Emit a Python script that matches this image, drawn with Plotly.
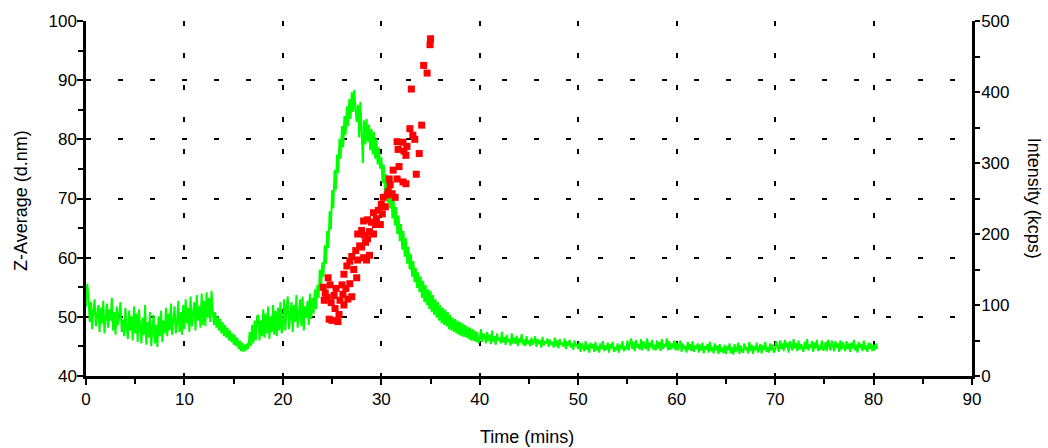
import plotly.graph_objects as go

# ---------------- data ----------------
# Intensity (kcps), sampled every 0.125 min starting at t = 0
t_start = 0.0
t_step = 0.125
intensity = [
    # 0 - 5 min
    98, 130, 112, 76, 104, 66, 92, 108, 70, 84, 100, 62, 96, 74, 106, 60, 88, 102, 68, 94,
    78, 110, 64, 90, 58, 98, 72, 86, 104, 62, 80, 56, 96, 70, 52, 92, 64, 84, 50, 98,
    # 5 - 10 min
    60, 88, 48, 94, 66, 46, 82, 58, 100, 44, 76, 54, 90, 42, 68, 86, 46, 72, 41, 84,
    56, 92, 48, 78, 60, 96, 56, 88, 64, 102, 58, 82, 98, 60, 74, 106, 62, 90, 58, 100,
    # 10 - 15 min
    66, 108, 74, 96, 62, 112, 70, 88, 104, 64, 114, 78, 98, 68, 116, 72, 106, 70, 118, 82,
    110, 76, 120, 92, 72, 90, 68, 84, 64, 80, 60, 76, 56, 72, 54, 68, 50, 64, 48, 60,
    # 15 - 20 min
    44, 58, 42, 54, 38, 50, 35, 47, 34, 44, 36, 46, 38, 62, 42, 72, 46, 78, 50, 84,
    86, 50, 78, 56, 94, 54, 88, 60, 98, 52, 84, 62, 100, 58, 92, 56, 96, 64, 104, 60,
    # 20 - 25 min
    70, 108, 64, 96, 112, 66, 90, 104, 62, 100, 76, 114, 68, 94, 108, 70, 112, 64, 98, 82,
    106, 72, 116, 80, 110, 88, 122, 94, 128, 110, 150, 124, 160, 140, 184, 158, 204, 180, 232, 206,
    # 25 - 30 min
    262, 236, 290, 262, 312, 286, 334, 306, 352, 322, 366, 340, 380, 352, 390, 362, 400, 372, 403, 376,
    358, 382, 336, 386, 346, 300, 360, 326, 362, 330, 354, 318, 348, 312, 344, 306, 334, 298, 322, 292,
    # 30 - 35 min
    308, 272, 298, 256, 284, 244, 270, 236, 262, 222, 248, 212, 238, 200, 226, 190, 214, 178, 204, 168,
    194, 158, 182, 150, 172, 140, 162, 132, 152, 124, 146, 118, 140, 110, 134, 104, 128, 100, 122, 94,
    # 35 - 40 min
    120, 90, 114, 86, 108, 82, 104, 78, 100, 74, 96, 72, 94, 70, 90, 66, 86, 64, 82, 62,
    80, 60, 78, 58, 76, 56, 74, 55, 72, 54, 70, 52, 68, 50, 66, 49, 64, 48, 62, 46,
    # 40 - 45 min
    52, 66, 48, 60, 56, 46, 62, 50, 58, 45, 64, 48, 56, 44, 60, 50, 54, 46, 62, 47,
    55, 44, 58, 48, 52, 43, 60, 46, 54, 45, 57, 42, 53, 47, 59, 44, 51, 42, 56, 45,
    # 45 - 50 min
    50, 42, 54, 44, 48, 56, 41, 52, 45, 50, 40, 55, 43, 49, 46, 53, 41, 51, 44, 48,
    40, 54, 42, 50, 39, 52, 44, 47, 41, 53, 38, 49, 43, 51, 40, 46, 37, 50, 42, 45,
    # 50 - 55 min
    38, 48, 34, 46, 40, 35, 49, 37, 44, 33, 47, 39, 45, 34, 48, 36, 42, 33, 46, 38,
    49, 35, 43, 37, 47, 33, 45, 39, 48, 34, 41, 36, 46, 33, 44, 38, 49, 35, 42, 37,
    # 55 - 60 min
    50, 36, 46, 53, 38, 48, 35, 51, 40, 45, 37, 52, 36, 49, 42, 38, 53, 35, 47, 40,
    51, 37, 44, 36, 50, 39, 48, 35, 52, 38, 45, 41, 53, 36, 49, 37, 46, 39, 50, 36,
    # 60 - 65 min
    47, 36, 44, 50, 34, 46, 38, 42, 33, 48, 37, 45, 35, 49, 34, 43, 38, 46, 33, 44,
    36, 47, 32, 42, 37, 45, 33, 48, 35, 41, 32, 46, 36, 43, 31, 45, 34, 40, 32, 44,
    # 65 - 70 min
    31, 42, 36, 46, 32, 40, 30, 45, 34, 38, 47, 31, 43, 35, 33, 46, 37, 41, 32, 48,
    35, 44, 31, 42, 36, 47, 33, 39, 45, 32, 43, 37, 48, 34, 40, 33, 46, 36, 44, 33,
    # 70 - 75 min
    36, 49, 42, 34, 50, 38, 46, 35, 51, 40, 47, 33, 49, 43, 36, 52, 39, 46, 35, 50,
    37, 45, 41, 34, 48, 38, 52, 36, 44, 40, 49, 34, 47, 39, 51, 35, 43, 37, 50, 36,
    # 75 - 80 min
    38, 48, 35, 51, 42, 36, 50, 44, 35, 49, 40, 46, 34, 50, 37, 48, 42, 35, 49, 38,
    46, 34, 47, 39, 51, 36, 44, 33, 48, 40, 45, 35, 50, 37, 43, 34, 47, 38, 46, 35,
    # 80 - end
    44, 36, 46, 38,
]
intensity_time = [t_start + i * t_step for i in range(len(intensity))]

# Z-Average (d.nm) measurements
z_time = [
    24.1, 24.3, 24.2, 24.5, 24.6, 24.8, 24.7, 25.0, 24.9, 25.2, 25.3, 25.4, 25.6, 25.7,
    25.8, 26.0, 26.1, 26.2, 26.4, 26.6, 26.8, 27.0, 26.2, 26.5, 26.8, 27.2, 27.5, 27.6,
    27.0, 27.4,
    27.8, 28.2, 28.5, 28.8, 28.0, 28.4, 28.6, 27.6, 28.0, 28.3, 28.8, 29.2, 29.4, 28.2,
    28.6, 29.0, 29.5, 29.9, 29.2, 29.7, 30.1, 30.0, 30.4, 30.2, 30.6, 30.7, 31.1, 31.4,
    30.8, 30.9, 31.2, 31.6, 31.8, 32.2, 32.5, 31.6, 31.7, 32.2, 32.3, 32.5, 32.6, 32.9,
    33.2, 33.4, 33.55, 33.85, 34.1, 33.05, 34.3, 34.65, 34.95, 35.0,
]
z_avg = [
    55.0, 54.0, 52.8, 53.3, 56.6, 55.4, 49.6, 49.4, 52.4, 53.6, 51.4, 54.8, 49.2, 50.4,
    52.8, 55.4, 53.8, 52.0, 54.8, 53.0, 55.6, 53.4, 57.2, 58.6, 59.4, 58.0, 56.6, 59.6,
    60.2, 61.2,
    62.0, 60.0, 59.6, 60.4, 61.8, 62.6, 63.2, 64.0, 64.6, 63.8, 64.4, 64.0, 65.6, 66.2,
    66.4, 66.0, 66.6, 65.6, 67.6, 68.0, 67.4, 69.0, 68.6, 70.2, 70.6, 71.2, 70.8, 70.2,
    73.3, 72.3, 74.8, 73.3, 75.4, 72.8, 72.5, 79.6, 78.3, 79.5, 78.0, 77.3, 78.8, 81.8,
    80.7, 80.0, 74.1, 77.6, 82.4, 88.5, 92.5, 91.2, 96.0, 97.0,
]

x_ticks = [0, 10, 20, 30, 40, 50, 60, 70, 80, 90]
z_ticks = [40, 50, 60, 70, 80, 90, 100]
i_ticks = [0, 100, 200, 300, 400, 500]

# ---------------- figure ----------------
FONT = "Liberation Sans"
tickfont = dict(family=FONT, size=17, color="#000000")
grid = dict(showgrid=True, gridcolor="#000000", gridwidth=2, griddash="5px,27px")

fig = go.Figure()
fig.add_trace(go.Scatter(
    x=intensity_time, y=intensity, mode="lines",
    line=dict(color="#00ff00", width=2), yaxis="y", showlegend=False,
))
fig.add_trace(go.Scatter(
    x=z_time, y=z_avg, mode="markers",
    marker=dict(symbol="square", size=7, color="#ff0000", line=dict(width=0)),
    yaxis="y2", showlegend=False,
))

fig.update_layout(
    width=1048, height=448,
    margin=dict(l=86, r=76, t=21, b=72, pad=0),
    paper_bgcolor="white", plot_bgcolor="white",
    font=dict(family=FONT, size=17, color="#000000"),
    xaxis=dict(
        range=[0, 90], tickmode="array", tickvals=x_ticks, ticktext=[str(v) for v in x_ticks],
        showline=True, linecolor="#000000", linewidth=2.5,
        ticks="outside", ticklen=6, tickwidth=2, tickcolor="#000000",
        minor=dict(dtick=5, tick0=0, ticks="outside", ticklen=5, tickwidth=2,
                   tickcolor="#000000", showgrid=False),
        tickfont=tickfont, zeroline=False, **grid,
    ),
    yaxis=dict(
        range=[0, 500], side="right", tickmode="array", tickvals=i_ticks,
        ticktext=[str(v) for v in i_ticks],
        showline=True, linecolor="#000000", linewidth=2.5,
        ticks="outside", ticklen=5, tickwidth=2, tickcolor="#000000",
        minor=dict(dtick=50, tick0=0, ticks="outside", ticklen=5, tickwidth=2,
                   tickcolor="#000000", showgrid=False),
        tickfont=tickfont, zeroline=False, showgrid=False, ticklabelstandoff=-2,
    ),
    yaxis2=dict(
        range=[40, 100], side="left", overlaying="y", anchor="x",
        tickmode="array", tickvals=z_ticks, ticktext=[str(v) for v in z_ticks],
        showline=True, linecolor="#000000", linewidth=2.5,
        ticks="outside", ticklen=6, tickwidth=2, tickcolor="#000000",
        minor=dict(dtick=5, tick0=40, ticks="outside", ticklen=5, tickwidth=2,
                   tickcolor="#000000", showgrid=False),
        tickfont=tickfont, zeroline=False, ticklabelstandoff=-3, **grid,
    ),
    annotations=[
        dict(text="Time (mins)", xref="paper", yref="paper", x=0.4977, y=-0.172,
             xanchor="center", yanchor="middle", showarrow=False,
             font=dict(family=FONT, size=18, color="#000000")),
        dict(text="Z-Average (d.nm)", xref="paper", yref="paper", x=-0.0734, y=0.496,
             xanchor="center", yanchor="middle", textangle=-90, showarrow=False,
             font=dict(family=FONT, size=18, color="#000000")),
        dict(text="Intensity (kcps)", xref="paper", yref="paper", x=1.0700, y=0.502,
             xanchor="center", yanchor="middle", textangle=90, showarrow=False,
             font=dict(family=FONT, size=18, color="#000000")),
    ],
)

fig.write_html(
    "out.html",
    config={"displayModeBar": False},
    post_script="document.body.style.margin='0px';document.body.style.overflow='hidden';",
)
